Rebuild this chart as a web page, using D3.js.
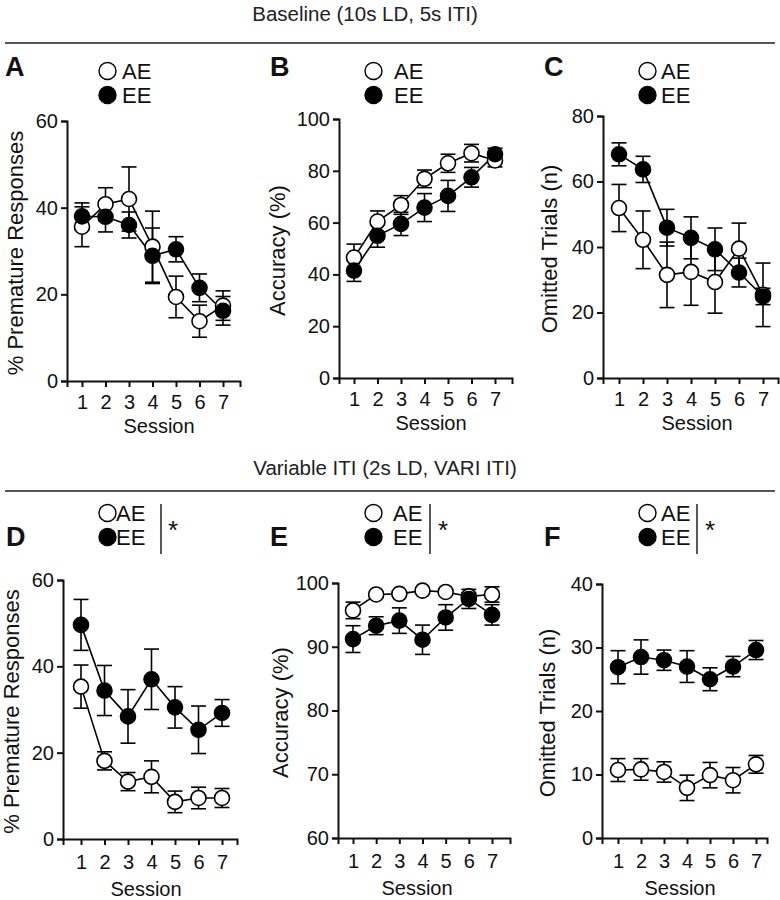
<!DOCTYPE html>
<html><head><meta charset="utf-8">
<script src="https://cdn.jsdelivr.net/npm/d3@7"></script>
<style>
body{margin:0;background:#fff}
svg{display:block;font-family:"Liberation Sans",Arial,Helvetica,sans-serif}
</style>
</head><body>
<svg id="chart" width="780" height="900"></svg>
<script>
// ---------------- DATA ----------------
const sessions = [1, 2, 3, 4, 5, 6, 7];
const groups = ["AE", "EE"];
const sectionTitles = ["Baseline (10s LD, 5s ITI)", "Variable ITI (2s LD, VARI ITI)"];
const panelLetters = ["A", "B", "C", "D", "E", "F"];
const yTitles = ["% Premature Responses", "Accuracy (%)", "Omitted Trials (n)",
                 "% Premature Responses", "Accuracy (%)", "Omitted Trials (n)"];
const xTitle = "Session";
const sigMark = "*";

const yTicksA = [0, 20, 40, 60];
const yTicksB = [0, 20, 40, 60, 80, 100];
const yTicksC = [0, 20, 40, 60, 80];
const yTicksD = [0, 20, 40, 60];
const yTicksE = [60, 70, 80, 90, 100];
const yTicksF = [0, 10, 20, 30, 40];

// A: Baseline % premature
const A_AE = [35.6, 40.8, 42.0, 31.0, 19.4, 13.8, 17.4];
const A_AE_sem = [4.6, 3.8, 7.4, 8.2, 4.8, 3.7, 3.4];
const A_EE = [38.0, 37.9, 36.0, 28.9, 30.4, 21.5, 16.2];
const A_EE_sem = [3.1, 3.5, 3.0, 6.4, 2.9, 3.2, 3.3];
// B: Baseline accuracy
const B_AE = [46.5, 60.4, 66.8, 76.9, 82.9, 86.8, 84.0];
const B_AE_sem = [5.2, 4.1, 3.6, 3.4, 3.5, 3.4, 2.5];
const B_EE = [41.5, 54.9, 59.5, 65.8, 70.3, 77.5, 86.4];
const B_EE_sem = [4.2, 4.4, 4.5, 5.4, 6.0, 3.8, 2.3];
// C: Baseline omitted trials
const C_AE = [51.9, 42.2, 31.5, 32.4, 29.3, 39.5, 25.4];
const C_AE_sem = [7.2, 8.8, 10.0, 10.2, 9.5, 7.8, 9.7];
const C_EE = [68.3, 63.7, 45.9, 42.8, 39.3, 32.2, 24.9];
const C_EE_sem = [3.5, 4.0, 5.6, 6.4, 6.5, 4.4, 2.5];
// D: Variable ITI % premature
const D_AE = [35.3, 18.1, 13.3, 14.4, 8.6, 9.5, 9.5];
const D_AE_sem = [5.0, 2.1, 2.1, 3.7, 2.5, 2.5, 2.2];
const D_EE = [49.6, 34.4, 28.4, 37.0, 30.5, 25.3, 29.2];
const D_EE_sem = [5.9, 5.8, 6.2, 7.0, 4.8, 5.5, 3.1];
// E: Variable ITI accuracy
const E_AE = [95.7, 98.2, 98.3, 98.8, 98.6, 97.9, 98.2];
const E_AE_sem = [1.3, 0.3, 0.3, 0.3, 0.3, 0.6, 1.2];
const E_EE = [91.2, 93.3, 94.1, 91.1, 94.6, 97.5, 95.0];
const E_EE_sem = [2.1, 1.4, 2.0, 2.3, 2.0, 1.5, 1.6];
// F: Variable ITI omitted trials
const F_AE = [10.7, 10.8, 10.4, 7.9, 9.9, 9.1, 11.6];
const F_AE_sem = [1.8, 1.7, 1.6, 2.0, 2.0, 2.0, 1.4];
const F_EE = [26.9, 28.5, 28.0, 27.0, 25.0, 27.0, 29.6];
const F_EE_sem = [2.6, 2.7, 1.6, 2.5, 1.8, 1.6, 1.5];

// ---------------- LAYOUT ----------------
const panels = [
  {ae: A_AE, aeSem: A_AE_sem, ee: A_EE, eeSem: A_EE_sem, ticks: yTicksA,
   axX: 67, axEnd: 240, s1: 82, s7: 223, yTop: 121, yBot: 381, titleOff: 44, sessX: 159,
   letterX: 5, letterY: 76, legC: 107.5, legT: 122, legY: 79, sig: false},
  {ae: B_AE, aeSem: B_AE_sem, ee: B_EE, eeSem: B_EE_sem, ticks: yTicksB,
   axX: 339, axEnd: 512, s1: 354, s7: 495, yTop: 119, yBot: 378, titleOff: 54, sessX: 431,
   letterX: 270, letterY: 76, legC: 373.5, legT: 394, legY: 79, sig: false},
  {ae: C_AE, aeSem: C_AE_sem, ee: C_EE, eeSem: C_EE_sem, ticks: yTicksC,
   axX: 603, axEnd: 778, s1: 619, s7: 763, yTop: 116, yBot: 378, titleOff: 46, sessX: 697,
   letterX: 544, letterY: 76, legC: 647.5, legT: 661, legY: 79, sig: false},
  {ae: D_AE, aeSem: D_AE_sem, ee: D_EE, eeSem: D_EE_sem, ticks: yTicksD,
   axX: 63, axEnd: 237, s1: 81, s7: 222, yTop: 580, yBot: 839, titleOff: 44, sessX: 146,
   letterX: 6, letterY: 546, legC: 107.5, legT: 116, legY: 521, sig: true, barX: 161, starX: 168},
  {ae: E_AE, aeSem: E_AE_sem, ee: E_EE, eeSem: E_EE_sem, ticks: yTicksE,
   axX: 338, axEnd: 510, s1: 353, s7: 492, yTop: 583, yBot: 838, titleOff: 50, sessX: 417,
   letterX: 270, letterY: 546, legC: 373.5, legT: 393, legY: 521, sig: true, barX: 430, starX: 438},
  {ae: F_AE, aeSem: F_AE_sem, ee: F_EE, eeSem: F_EE_sem, ticks: yTicksF,
   axX: 602, axEnd: 767, s1: 618, s7: 756, yTop: 584, yBot: 838, titleOff: 47, sessX: 680,
   letterX: 544, letterY: 546, legC: 647.5, legT: 661, legY: 521, sig: true, barX: 697, starX: 705}
];
const rows = [
  {titleX: 365, titleY: 21, lineY: 43, tickLabDy: 28, sessDy: 52},
  {titleX: 385, titleY: 475, lineY: 491, tickLabDy: 30, sessDy: 57}
];

const svg = d3.select("#chart");
const R = 7.5, CAP = 7.5, LW = 1.6;

rows.forEach((r, i) => {
  svg.append("text").attr("x", r.titleX).attr("y", r.titleY)
    .attr("text-anchor", "middle").attr("font-size", 20.5).attr("fill", "#222")
    .text(sectionTitles[i]);
  svg.append("line").attr("x1", 5).attr("x2", 775).attr("y1", r.lineY).attr("y2", r.lineY)
    .attr("stroke", "#555").attr("stroke-width", 1.8);
});

panels.forEach((p, i) => {
  const row = i < 3 ? rows[0] : rows[1];
  const u = (p.s7 - p.s1) / 6;
  const x = d3.scaleLinear()
    .domain([1 - (p.s1 - p.axX) / u, 7 + (p.axEnd - p.s7) / u])
    .range([p.axX, p.axEnd]);
  const dom = d3.extent(p.ticks);
  const y = d3.scaleLinear().domain(dom).range([p.yBot, p.yTop]);
  const g = svg.append("g");

  // axes
  const xa = g.append("g").attr("transform", `translate(0,${p.yBot})`)
    .call(d3.axisBottom(x).tickValues(sessions).tickSizeOuter(0).tickSize(6).tickPadding(4));
  xa.selectAll("text").attr("font-size", 20).attr("fill", "#111").attr("dy", null)
    .attr("y", row.tickLabDy);
  const ya = g.append("g").attr("transform", `translate(${p.axX},0)`)
    .call(d3.axisLeft(y).tickValues(p.ticks).tickSizeOuter(0).tickSize(6).tickPadding(3));
  ya.selectAll("text").attr("font-size", 20).attr("fill", "#111");
  [xa, ya].forEach(a => {
    a.select(".domain").attr("stroke", "#111").attr("stroke-width", 2);
    a.selectAll(".tick line").attr("stroke", "#111").attr("stroke-width", 2);
    a.attr("font-family", null);
  });

  // axis titles
  g.append("text")
    .attr("transform", `translate(${p.axX - p.titleOff},${(p.yTop + p.yBot) / 2 + 2}) rotate(-90)`)
    .attr("text-anchor", "middle").attr("font-size", 22).attr("fill", "#111")
    .text(yTitles[i]);
  g.append("text").attr("x", p.sessX).attr("y", p.yBot + row.sessDy)
    .attr("text-anchor", "middle").attr("font-size", 20).attr("fill", "#111")
    .text(xTitle);

  // series
  const series = [
    {vals: p.ae, sem: p.aeSem, fill: "#fff"},
    {vals: p.ee, sem: p.eeSem, fill: "#000"}
  ];
  const line = d3.line().x((d, k) => x(sessions[k])).y(d => y(d));
  series.forEach(s => {
    g.append("path").datum(s.vals).attr("d", line)
      .attr("fill", "none").attr("stroke", "#000").attr("stroke-width", LW);
  });
  series.forEach(s => {
    const eb = g.append("g").attr("stroke", "#000").attr("stroke-width", LW);
    s.vals.forEach((v, k) => {
      const cx = x(sessions[k]);
      const lo = y(v - s.sem[k]), hi = y(v + s.sem[k]);
      eb.append("line").attr("x1", cx).attr("x2", cx).attr("y1", lo).attr("y2", hi);
      eb.append("line").attr("x1", cx - CAP).attr("x2", cx + CAP).attr("y1", hi).attr("y2", hi);
      eb.append("line").attr("x1", cx - CAP).attr("x2", cx + CAP).attr("y1", lo).attr("y2", lo);
    });
  });
  series.forEach(s => {
    g.selectAll(null).data(s.vals).enter().append("circle")
      .attr("cx", (d, k) => x(sessions[k])).attr("cy", d => y(d)).attr("r", R)
      .attr("fill", s.fill).attr("stroke", "#000").attr("stroke-width", LW);
  });

  // panel letter
  svg.append("text").attr("x", p.letterX).attr("y", p.letterY)
    .attr("font-size", 27).attr("font-weight", "bold").attr("fill", "#111")
    .text(panelLetters[i]);

  // legend
  groups.forEach((name, k) => {
    const by = p.legY + k * 24;
    svg.append("circle").attr("cx", p.legC).attr("cy", by - 8).attr("r", 8.5)
      .attr("fill", k === 0 ? "#fff" : "#000").attr("stroke", "#000").attr("stroke-width", 1.4);
    svg.append("text").attr("x", p.legT).attr("y", by).attr("font-size", 22).attr("fill", "#111")
      .text(name);
  });
  if (p.sig) {
    svg.append("line").attr("x1", p.barX).attr("x2", p.barX)
      .attr("y1", p.legY - 17).attr("y2", p.legY + 33)
      .attr("stroke", "#111").attr("stroke-width", 1.4);
    svg.append("text").attr("x", p.starX).attr("y", p.legY + 18)
      .attr("font-size", 26).attr("fill", "#111").text(sigMark);
  }
});
</script>
</body></html>
